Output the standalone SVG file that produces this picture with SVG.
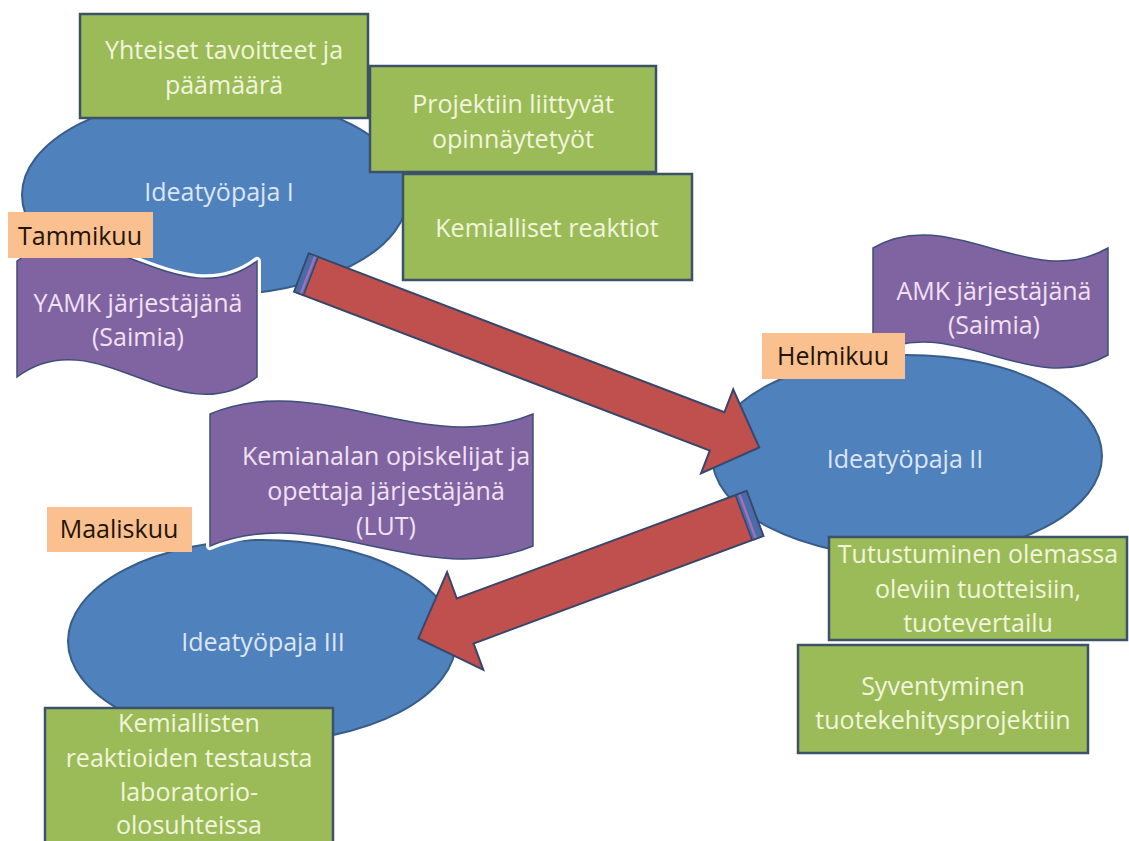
<svg xmlns="http://www.w3.org/2000/svg" width="1129" height="841" viewBox="0 0 1129 841">
  <defs>
    <style>
      text { font-family: "Open Sans", "Liberation Sans", sans-serif; font-size: 25px; text-anchor: middle; }
      .ell { fill: #4F81BD; stroke: #385D8A; stroke-width: 2; }
      .ell-t { fill: #DCE6F4; }
      .box { fill: #9BBB59; stroke: #3D5268; stroke-width: 2.5; }
      .box-t { fill: #F2F5DC; }
      .wave-halo { fill: none; stroke: #FFFFFF; stroke-width: 8; stroke-linejoin: round; }
      .wave { fill: #8064A2; stroke: #3E4F7A; stroke-width: 1.5; }
      .wave-t { fill: #F1E1F3; }
      .tag { fill: #FAC08F; }
      .tag-t { fill: #241408; }
      .arrow { fill: #C0504D; stroke: #37476A; stroke-width: 2; stroke-linejoin: miter; }
      .bevel { fill: #4A6BA8; }
      .bevel-line { stroke: #A070B8; stroke-width: 2.5; }
      .bevel-edge { fill: none; stroke: #37476A; stroke-width: 1.5; }
    </style>
    <!-- wave banner outlines -->
    <path id="wave-yamk" d="M17,261 C97,201 177,321 257,261 L257,377 C177,437 97,317 17,377 Z"/>
    <path id="wave-amk" d="M873,248 C951,203 1030,293 1108,248 L1108,355 C1030,400 951,310 873,355 Z"/>
    <path id="wave-lut" d="M210,414 C318,369 425,459 533,414 L533,546 C425,591 318,501 210,546 Z"/>
  </defs>

  <rect width="1129" height="841" fill="#FFFFFF"/>

  <!-- Workshop I -->
  <g id="workshop-1">
    <ellipse class="ell" cx="215" cy="195" rx="193" ry="100"/>
    <text class="ell-t" x="219" y="201">Ideatyöpaja I</text>
  </g>

  <g id="goal-box">
    <rect class="box" x="80" y="14" width="288" height="104"/>
    <text class="box-t" x="224" y="59">Yhteiset tavoitteet ja</text>
    <text class="box-t" x="224" y="94">päämäärä</text>
  </g>

  <g id="thesis-box">
    <rect class="box" x="370" y="66" width="286" height="106"/>
    <text class="box-t" x="513" y="113">Projektiin liittyvät</text>
    <text class="box-t" x="513" y="148">opinnäytetyöt</text>
  </g>

  <g id="reactions-box">
    <rect class="box" x="403" y="174" width="289" height="106"/>
    <text class="box-t" x="547" y="237">Kemialliset reaktiot</text>
  </g>

  <g id="yamk-banner">
    <use href="#wave-yamk" class="wave-halo"/>
    <use href="#wave-yamk" class="wave"/>
    <text class="wave-t" x="138" y="312">YAMK järjestäjänä</text>
    <text class="wave-t" x="138" y="346">(Saimia)</text>
  </g>

  <g id="tag-january">
    <rect class="tag" x="8" y="212" width="145" height="46"/>
    <text class="tag-t" x="80" y="245">Tammikuu</text>
  </g>

  <!-- Workshop II -->
  <g id="workshop-2">
    <ellipse class="ell" cx="907" cy="456" rx="195" ry="101"/>
    <text class="ell-t" x="905" y="468">Ideatyöpaja II</text>
  </g>

  <g id="amk-banner">
    <use href="#wave-amk" class="wave-halo"/>
    <use href="#wave-amk" class="wave"/>
    <text class="wave-t" x="994" y="300">AMK järjestäjänä</text>
    <text class="wave-t" x="994" y="334">(Saimia)</text>
  </g>

  <g id="tag-february">
    <rect class="tag" x="762" y="333" width="143" height="46"/>
    <text class="tag-t" x="833" y="365">Helmikuu</text>
  </g>

  <!-- Workshop III -->
  <g id="workshop-3">
    <ellipse class="ell" cx="262" cy="641" rx="194" ry="101"/>
    <text class="ell-t" x="263" y="651">Ideatyöpaja III</text>
  </g>

  <g id="lut-banner">
    <use href="#wave-lut" class="wave-halo"/>
    <use href="#wave-lut" class="wave"/>
    <text class="wave-t" x="386" y="465">Kemianalan opiskelijat ja</text>
    <text class="wave-t" x="386" y="500">opettaja järjestäjänä</text>
    <text class="wave-t" x="386" y="535">(LUT)</text>
  </g>

  <g id="tag-march">
    <rect class="tag" x="47" y="507" width="145" height="45"/>
    <text class="tag-t" x="119" y="538">Maaliskuu</text>
  </g>

  <!-- block arrows between the workshops -->
  <g id="connectors">
    <g id="arrow-1-2">
      <polygon class="arrow" points="308.8,253.4 724.4,412.3 733.2,389.4 759.2,447.4 701.0,473.4 709.8,450.5 294.2,291.6"/>
      <polygon class="bevel" points="308.8,253.4 318.2,256.9 303.5,295.2 294.2,291.6"/>
      <line class="bevel-line" x1="315.4" y1="255.9" x2="300.7" y2="294.1"/>
      <polygon class="bevel-edge" points="308.8,253.4 318.2,256.9 303.5,295.2 294.2,291.6"/>
    </g>
    <g id="arrow-2-3">
      <polygon class="arrow" points="746.6,491.0 456.8,598.5 447.1,572.2 418.3,638.4 483.3,669.8 473.6,643.5 763.4,536.0"/>
      <polygon class="bevel" points="746.6,491.0 735.4,495.2 752.1,540.2 763.4,536.0"/>
      <line class="bevel-line" x1="739.2" y1="493.8" x2="755.9" y2="538.8"/>
      <polygon class="bevel-edge" points="746.6,491.0 735.4,495.2 752.1,540.2 763.4,536.0"/>
    </g>
  </g>

  <g id="products-box">
    <rect class="box" x="829" y="537" width="298" height="103"/>
    <text class="box-t" x="978" y="563">Tutustuminen olemassa</text>
    <text class="box-t" x="978" y="598">oleviin tuotteisiin,</text>
    <text class="box-t" x="978" y="632">tuotevertailu</text>
  </g>

  <g id="development-box">
    <rect class="box" x="798" y="645" width="290" height="108"/>
    <text class="box-t" x="943" y="695">Syventyminen</text>
    <text class="box-t" x="943" y="729">tuotekehitysprojektiin</text>
  </g>

  <g id="lab-box">
    <rect class="box" x="45" y="708" width="288" height="150"/>
    <text class="box-t" x="189" y="732">Kemiallisten</text>
    <text class="box-t" x="189" y="767">reaktioiden testausta</text>
    <text class="box-t" x="189" y="801">laboratorio-</text>
    <text class="box-t" x="189" y="834">olosuhteissa</text>
  </g>
</svg>
